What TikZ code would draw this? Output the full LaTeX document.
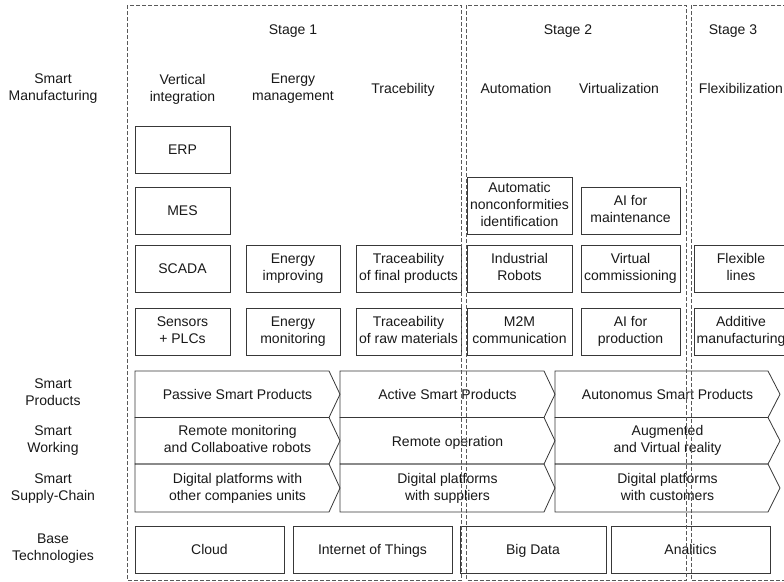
\documentclass[tikz,border=0pt]{standalone}
\usepackage{fontspec}
\setmainfont{Liberation Sans}
\begin{document}
\begin{tikzpicture}[x=1pt,y=-1pt,
  every node/.style={font=\fontsize{14}{17}\selectfont, text=black!90, align=center, inner sep=0pt, outer sep=0pt,
    execute at begin node={\rule{0pt}{13.5pt}}, execute at end node={\rule[-3pt]{0pt}{3pt}}},
  box/.style={draw=black!78, line width=0.8pt, minimum height=47pt},
  stagebox/.style={draw=black!65, line width=0.9pt, dash pattern=on 4pt off 2pt},
  chev/.style={draw=black!78, line width=0.8pt, line join=miter},
  lbl/.style={}
]
\useasboundingbox (0,0) rectangle (784,581);
\clip (0,0) rectangle (784,581);
\fill[white] (0,0) rectangle (784,581);

% stage headings
\node[lbl] (s1) at (293,29) {Stage 1};
\node[lbl] (s2) at (568,29) {Stage 2};
\node[lbl] (s3) at (733,29) {Stage 3};

% row labels
\node[lbl] (lsm) at (53,89) {Smart\\Manufacturing};
\node[lbl] (lsp) at (53,394) {Smart\\Products};
\node[lbl] (lsw) at (53,441) {Smart\\Working};
\node[lbl] (lsc) at (53,488.5) {Smart\\Supply-Chain};
\node[lbl] (lbt) at (53,549) {Base\\Technologies};

% column headings
\node[lbl] (cvi) at (182.5,89) {Vertical\\integration};
\node[lbl] (cem) at (293,89) {Energy\\management};
\node[lbl] (ctr) at (403,88) {Tracebility};
\node[lbl] (cau) at (516,88) {Automation};
\node[lbl] (cvz) at (619,88) {Virtualization};
\node[lbl] (cfx) at (741,88) {Flexibilization};

% stage 1 boxes
\node[box, minimum width=95pt] (erp) at (182.5,149.5) {ERP};
\node[box, minimum width=95pt] (mes) at (182.5,210.5) {MES};
\node[box, minimum width=95pt] (scada) at (182.5,268.5) {SCADA};
\node[box, minimum width=95pt] (sens) at (182.5,331.5) {Sensors\\+ PLCs};
\node[box, minimum width=94pt] (eimp) at (293,268.5) {Energy\\improving};
\node[box, minimum width=94pt] (emon) at (293,331.5) {Energy\\monitoring};
\node[box, minimum width=105pt] (tfin) at (408.5,268.5) {Traceability\\of final products};
\node[box, minimum width=105pt] (traw) at (408.5,331.5) {Traceability\\of raw materials};

% stage 2 boxes
\node[box, minimum width=105pt, minimum height=57pt] (anc) at (519.5,205.5) {Automatic\\nonconformities\\identification};
\node[box, minimum width=99pt] (aim) at (630.5,210.5) {AI for\\maintenance};
\node[box, minimum width=105pt] (irob) at (519.5,268.5) {Industrial\\Robots};
\node[box, minimum width=99pt] (vcom) at (630.5,268.5) {Virtual\\commissioning};
\node[box, minimum width=105pt] (m2m) at (519.5,331.5) {M2M\\communication};
\node[box, minimum width=99pt] (aip) at (630.5,331.5) {AI for\\production};

% stage 3 boxes
\node[box, minimum width=94pt] (flex) at (741,268.5) {Flexible\\lines};
\node[box, minimum width=94pt] (addm) at (741,331.5) {Additive\\manufacturing};

% chevrons
\newcommand{\chevron}[5]{% x0, shoulder, tip, ytop, ybot
  \draw[chev] (#1,#4) -- (#2,#4) -- (#3,{(#4+#5)/2}) -- (#2,#5) -- (#1,#5) -- cycle;
}
\chevron{135}{329}{340}{371}{417.5}
\chevron{135}{329}{340}{417.5}{464}
\chevron{135}{329}{340}{464}{512}
\chevron{340}{544}{555}{371}{417.5}
\chevron{340}{544}{555}{417.5}{464}
\chevron{340}{544}{555}{464}{512}
\chevron{555}{768}{780}{371}{417.5}
\chevron{555}{768}{780}{417.5}{464}
\chevron{555}{768}{780}{464}{512}

\node (psp) at (237.5,394.25) {Passive Smart Products};
\node (asp) at (447.5,394.25) {Active Smart Products};
\node (nsp) at (667.5,394.25) {Autonomus Smart Products};
\node (rmc) at (237.5,440.75) {Remote monitoring\\and Collaboative robots};
\node (rop) at (447.5,440.75) {Remote operation};
\node (avr) at (667.5,440.75) {Augmented\\and Virtual reality};
\node (dpo) at (237.5,488) {Digital platforms with\\other companies units};
\node (dps) at (447.5,488) {Digital platforms\\with suppliers};
\node (dpc) at (667.5,488) {Digital platforms\\with customers};

% base technologies
\node[box, minimum width=149pt] (cloud) at (209.5,549.5) {Cloud};
\node[box, minimum width=159pt] (iot) at (372.5,549.5) {Internet of Things};
\node[box, minimum width=146pt] (bigd) at (533,549.5) {Big Data};
\node[box, minimum width=159pt] (anal) at (690.5,549.5) {Analitics};

% stage frames
\draw[stagebox] (127,5) rectangle (461.5,580);
\draw[stagebox] (466.5,5) rectangle (686,580);
\draw[stagebox] (691,5) rectangle (800,580);
\end{tikzpicture}
\end{document}
